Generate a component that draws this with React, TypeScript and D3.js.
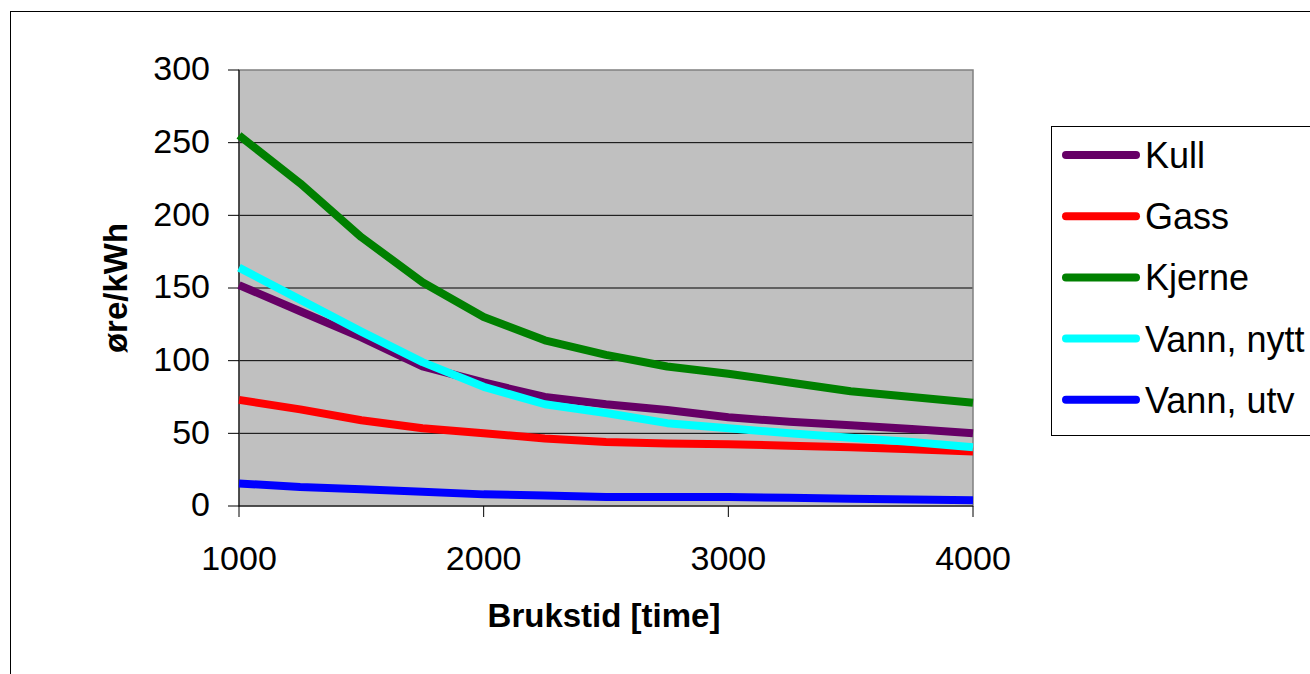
import React from "react";
import * as d3 from "d3";

const brukstid = [1000, 1250, 1500, 1750, 2000, 2250, 2500, 2750, 3000, 3250, 3500, 3750, 4000];
const kull = [152, 134, 116, 96, 85, 75, 70, 66, 61, 58, 55.5, 53, 50];
const gass = [73, 66.5, 59, 53.5, 50, 46.5, 44, 43, 42.5, 41.5, 40.5, 39, 37.5];
const kjerne = [255, 222, 185, 154, 130, 114, 104, 96, 91, 85, 79, 75, 71];
const vannNytt = [164, 142, 120, 99, 82, 70, 64, 57, 53.5, 50, 47, 44, 40.5];
const vannUtv = [15.5, 13, 11.5, 9.8, 8, 7.3, 6.2, 6.2, 6.2, 5.6, 5, 4.5, 4];

const seriesNames = ["Kull", "Gass", "Kjerne", "Vann, nytt", "Vann, utv"];
const seriesValues = [kull, gass, kjerne, vannNytt, vannUtv];
const seriesColors = ["#660066", "#FF0000", "#008000", "#00FFFF", "#0000FF"];

const yTicks = [0, 50, 100, 150, 200, 250, 300];
const xTicks = [1000, 2000, 3000, 4000];

const W = 1310;
const H = 674;
const FONT = "'Liberation Sans', Arial, sans-serif";

export default function App() {
  const x = d3.scaleLinear().domain([1000, 4000]).range([239, 973]);
  const y = d3.scaleLinear().domain([0, 300]).range([506, 70]);
  const line = d3
    .line<number>()
    .x((_, i) => x(brukstid[i]))
    .y((d) => y(d));

  const legendX = 1051;
  const legendY = 126;
  const rowH = 61.2;

  return (
    <svg
      width={W}
      height={H}
      style={{ position: "absolute", left: 0, top: 0, background: "#fff" }}
      fontFamily={FONT}
    >
      <rect x={10.5} y={11.5} width={1400} height={800} fill="#fff" stroke="#000" strokeWidth={1} />
      {/* plot area */}
      <rect x={x(1000)} y={y(300)} width={x(4000) - x(1000)} height={y(0) - y(300)} fill="#C0C0C0" />
      {yTicks
        .filter((t) => t > 0 && t < 300)
        .map((t) => (
          <line key={t} x1={x(1000)} x2={x(4000)} y1={y(t)} y2={y(t)} stroke="#000" strokeWidth={1} />
        ))}
      <rect
        x={x(1000)}
        y={y(300)}
        width={x(4000) - x(1000)}
        height={y(0) - y(300)}
        fill="none"
        stroke="#808080"
        strokeWidth={1.5}
      />
      {/* axes */}
      <line x1={x(1000)} x2={x(1000)} y1={y(300)} y2={y(0)} stroke="#000" strokeWidth={1} />
      <line x1={x(1000)} x2={x(4000)} y1={y(0)} y2={y(0)} stroke="#000" strokeWidth={1} />
      {yTicks.map((t) => (
        <g key={t}>
          <line x1={x(1000) - 11} x2={x(1000)} y1={y(t)} y2={y(t)} stroke="#000" strokeWidth={1} />
          <text x={210} y={y(t)} dy="0.3em" textAnchor="end" fontSize={34} fill="#000">
            {t}
          </text>
        </g>
      ))}
      {xTicks.map((t) => (
        <g key={t}>
          <line x1={x(t)} x2={x(t)} y1={y(0)} y2={y(0) + 11} stroke="#000" strokeWidth={1} />
          <text x={x(t)} y={570} textAnchor="middle" fontSize={34} fill="#000">
            {t}
          </text>
        </g>
      ))}
      {/* series */}
      {seriesValues.map((vals, i) => (
        <path
          key={seriesNames[i]}
          d={line(vals) || ""}
          fill="none"
          stroke={seriesColors[i]}
          strokeWidth={8}
          strokeLinejoin="round"
        />
      ))}
      {/* axis titles */}
      <text x={604} y={627} textAnchor="middle" fontSize={33} fontWeight="bold" fill="#000">
        Brukstid [time]
      </text>
      <text
        transform={`translate(127, 288) rotate(-90)`}
        textAnchor="middle"
        fontSize={33}
        fontWeight="bold"
        fill="#000"
      >
        øre/kWh
      </text>
      {/* legend */}
      <rect x={legendX + 0.5} y={legendY + 0.5} width={400} height={309} fill="#fff" stroke="#000" strokeWidth={1} />
      {seriesNames.map((n, i) => {
        const cy = legendY + 29 + i * rowH;
        return (
          <g key={n}>
            <line x1={1066} x2={1136} y1={cy} y2={cy} stroke={seriesColors[i]} strokeWidth={8} strokeLinecap="round" />
            <text x={1145} y={cy} dy="0.36em" fontSize={36} fill="#000">
              {n}
            </text>
          </g>
        );
      })}
    </svg>
  );
}
